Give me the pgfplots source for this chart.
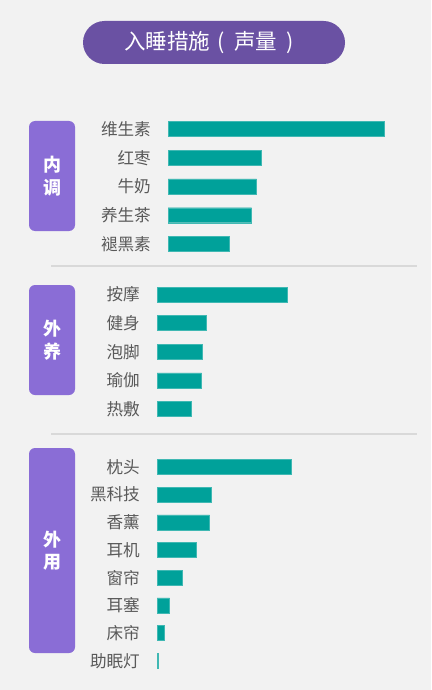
\documentclass[border=0pt]{standalone}
\usepackage{pgfplots}
\pgfplotsset{compat=1.18}
\usepackage{fontspec}
\setmainfont{Noto Sans CJK SC}

\definecolor{bg}{HTML}{F2F2F2}
\definecolor{barc}{HTML}{00A19A}
\definecolor{titlec}{HTML}{6A51A3}
\definecolor{tagc}{HTML}{8A6DD6}
\definecolor{labc}{HTML}{595959}
\definecolor{sepc}{HTML}{D9D9D9}

\pgfplotsset{
  grp/.style={
    xbar, scale only axis, anchor=north west,
    width=250pt, xmin=0, xmax=250,
    y dir=reverse,
    axis line style={draw=none},
    xtick=\empty, major tick length=0pt,
    yticklabel style={font=\fontsize{16.6}{16.6}\selectfont, text=labc, inner sep=0pt, xshift=-17pt},
    bar width=15pt, bar shift=0pt, clip=false,
  },
}

\begin{document}
\begin{tikzpicture}
  \path[use as bounding box, fill=bg] (0,0) rectangle (431pt,-690pt);

  % title pill
  \node[fill=titlec, rounded corners=21.5pt, minimum width=262pt, minimum height=43pt] at (214pt,-42.5pt) {};
  \node[text=white, font=\fontsize{21.5}{21.5}\selectfont, inner sep=0pt] at (209pt,-42.5pt)
    {入睡措施\hspace{7pt}(\hspace{10pt}声量\hspace{9pt})};

  % group tags
  \node[fill=tagc, rounded corners=6pt, minimum width=46pt, minimum height=110pt,
        text=white, font=\bfseries\fontsize{18}{22.5}\selectfont, align=center] at (52pt,-176pt) {内\\调};
  \node[fill=tagc, rounded corners=6pt, minimum width=46pt, minimum height=110pt,
        text=white, font=\bfseries\fontsize{18}{22.5}\selectfont, align=center] at (52pt,-340pt) {外\\养};
  \node[fill=tagc, rounded corners=6pt, minimum width=46pt, minimum height=205pt,
        text=white, font=\bfseries\fontsize{18}{22.5}\selectfont, align=center] at (52pt,-550.5pt) {外\\用};

  % separators
  \draw[sepc, line width=1.5pt] (51pt,-266pt) -- (417pt,-266pt);
  \draw[sepc, line width=1.5pt] (51pt,-434pt) -- (417pt,-434pt);

  % 内调
  \begin{axis}[grp, at={(168pt,-114.6pt)}, height=143.75pt, ymin=-0.5, ymax=4.5,
      ytick={0,1,2,3,4}, yticklabels={维生素,红枣,牛奶,养生茶,褪黑素}]
    \addplot[fill=barc, draw=barc!75!white] coordinates {(216.5,0) (93.5,1) (88.5,2) (83.5,3) (61.5,4)};
  \end{axis}

  % 外养
  \begin{axis}[grp, at={(157pt,-280.2pt)}, height=143pt, ymin=-0.5, ymax=4.5,
      ytick={0,1,2,3,4}, yticklabels={按摩,健身,泡脚,瑜伽,热敷}]
    \addplot[fill=barc, draw=barc!75!white] coordinates {(130.5,0) (49.5,1) (45.5,2) (44.5,3) (34.5,4)};
  \end{axis}

  % 外用
  \begin{axis}[grp, at={(157pt,-453.1pt)}, height=221.6pt, ymin=-0.5, ymax=7.5,
      ytick={0,1,2,3,4,5,6,7}, yticklabels={枕头,黑科技,香薰,耳机,窗帘,耳塞,床帘,助眠灯}]
    \addplot[fill=barc, draw=barc!75!white] coordinates {(134.5,0) (54.5,1) (52.5,2) (39.5,3) (25.5,4) (12.5,5) (7.5,6) (1.5,7)};
  \end{axis}
\end{tikzpicture}
\end{document}
